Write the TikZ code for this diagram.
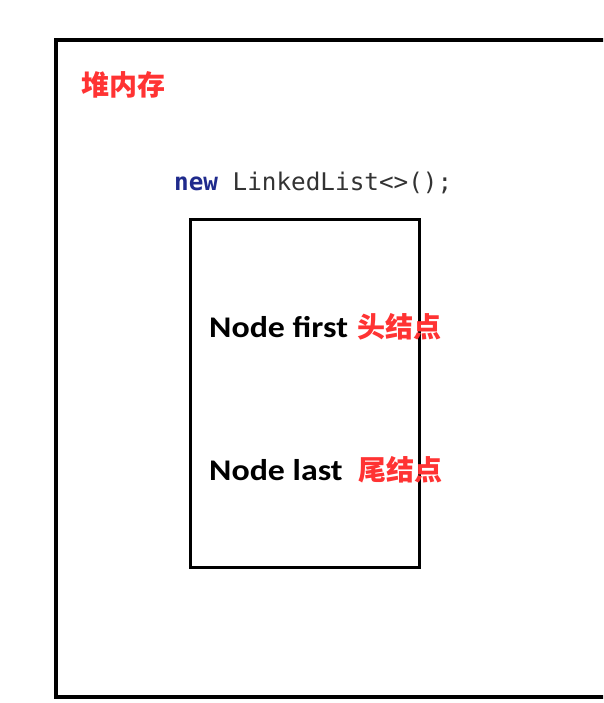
\documentclass[tikz,border=0pt]{standalone}
\usepackage{fontspec}
\setmainfont{Carlito}[FakeStretch=1.13]
\newfontfamily\cjk{Noto Sans CJK SC}
\newfontfamily\codefont{DejaVu Sans Mono}
\definecolor{redtxt}{HTML}{FF3333}
\definecolor{kwblue}{HTML}{1F2A8C}
\definecolor{codegray}{HTML}{333333}
\begin{document}
\begin{tikzpicture}[x=1pt,y=-1pt,
  boxline/.style={draw=black,line width=3.4pt},
  innerline/.style={draw=black,line width=3pt},
  redlabel/.style={text=redtxt,font=\cjk\bfseries\fontsize{28}{30}\selectfont,inner sep=0pt,anchor=west},
  fieldlabel/.style={text=black,font=\bfseries\fontsize{30}{32}\selectfont,inner sep=0pt,anchor=west}]
\useasboundingbox (0,0) rectangle (603,703);
\fill[white] (0,0) rectangle (603,703);
\begin{scope}
\clip (0,0) rectangle (603,703);
\draw[boxline] (620,40) -- (56,40) -- (56,697) -- (620,697);
\end{scope}
\node[innerline,minimum width=229pt,minimum height=348pt,anchor=north west,inner sep=0pt] (list) at (189,218) {};
\node[redlabel] (heap) at (81,85) {堆内存};
\node[inner sep=0pt,anchor=west,font=\codefont\fontsize{24.3}{26}\selectfont] (code) at (174,183) {\textcolor{kwblue}{\textbf{new}}\textcolor{codegray}{\ LinkedList<>();}};
\node[fieldlabel] (first) at (209,327) {Node first};
\node[redlabel] (firstcn) at (357,327) {头结点};
\node[fieldlabel] (last) at (209,470) {Node last};
\node[redlabel] (lastcn) at (358,470) {尾结点};
\end{tikzpicture}
\end{document}
